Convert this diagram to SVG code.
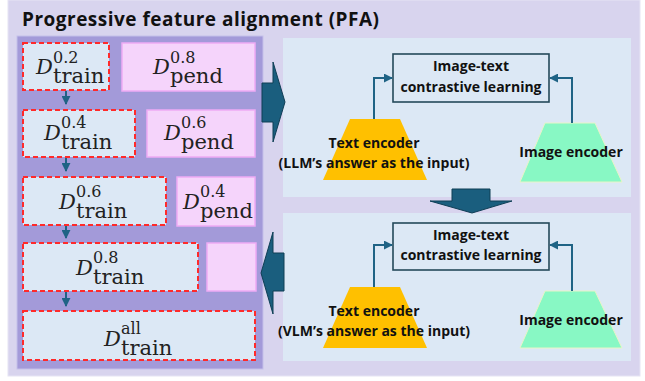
<svg xmlns="http://www.w3.org/2000/svg" width="645" height="381" viewBox="0 0 645 381">
<defs>
<style>
.title{font-family:"Open Sans","Liberation Sans",sans-serif;font-weight:700;font-size:19px;fill:#111}
.lbl{font-family:"Open Sans","Liberation Sans",sans-serif;font-weight:700;font-size:14px;fill:#111;text-anchor:middle}
.D{font-family:"DejaVu Serif",serif;font-style:italic;font-size:21px;fill:#222}
.sup{font-style:normal;font-size:16px}
.sub{font-style:normal;font-size:21px}
.train{fill:#dce8f5;stroke:#ff2a2a;stroke-width:2;stroke-dasharray:5 3}
.pend{fill:#f5d4fb;stroke:#eeaaf5;stroke-width:1.5}
.panel{fill:#dce8f5}
.big{fill:#1a5e7e;stroke:#0f3e55;stroke-width:1}
.conn{fill:none;stroke:#1f6385;stroke-width:2}
.cbox{fill:#dce8f5;stroke:#25495a;stroke-width:1.6}
.txtenc{fill:#ffc000}
.imgenc{fill:#88f8c4;stroke:#e8f5c8;stroke-width:1}
</style>
<marker id="ah" viewBox="0 0 10 10" refX="9" refY="5" markerWidth="4.5" markerHeight="4.5" orient="auto" markerUnits="strokeWidth">
<path d="M0,0 L10,5 L0,10 z" fill="#1f6385"/>
</marker>
</defs>

<g id="background">
<rect x="8" y="0" width="632" height="376" fill="#d8d4ee" stroke="#e6e4f4" stroke-width="1"/>
<text class="title" x="22" y="26" textLength="357" lengthAdjust="spacing">Progressive feature alignment (PFA)</text>
<rect x="17" y="36" width="246" height="333" fill="#a39ad9" stroke="#c4bfe9" stroke-width="1"/>
<rect class="panel" x="283" y="38" width="348" height="159"/>
<rect class="panel" x="283" y="213" width="348" height="148"/>
</g>

<g id="row1-train"><rect class="train" x="23" y="43" width="86" height="47"/>
<text class="D" x="36" y="74">D<tspan class="sup" x="53" y="63">0.2</tspan><tspan class="sub" x="53" y="83">train</tspan></text></g>
<g id="row1-pend"><rect class="pend" x="122" y="43" width="133" height="48"/>
<text class="D" x="153" y="74">D<tspan class="sup" x="170" y="63">0.8</tspan><tspan class="sub" x="170" y="83">pend</tspan></text></g>

<g id="row2-train"><rect class="train" x="23" y="110" width="112" height="47"/>
<text class="D" x="44" y="140">D<tspan class="sup" x="61" y="128">0.4</tspan><tspan class="sub" x="61" y="149">train</tspan></text></g>
<g id="row2-pend"><rect class="pend" x="147" y="110" width="108" height="47"/>
<text class="D" x="164" y="140">D<tspan class="sup" x="181" y="128">0.6</tspan><tspan class="sub" x="181" y="149">pend</tspan></text></g>

<g id="row3-train"><rect class="train" x="23" y="177" width="143" height="48"/>
<text class="D" x="59" y="209">D<tspan class="sup" x="76" y="197">0.6</tspan><tspan class="sub" x="76" y="218">train</tspan></text></g>
<g id="row3-pend"><rect class="pend" x="177" y="177" width="78" height="49"/>
<text class="D" x="183" y="209">D<tspan class="sup" x="200" y="197">0.4</tspan><tspan class="sub" x="200" y="218">pend</tspan></text></g>

<g id="row4-train"><rect class="train" x="23" y="243" width="175" height="48"/>
<text class="D" x="76" y="275">D<tspan class="sup" x="93" y="263">0.8</tspan><tspan class="sub" x="93" y="284">train</tspan></text></g>
<g id="row4-pend"><rect class="pend" x="207" y="243" width="49" height="48"/></g>

<g id="row5-train"><rect class="train" x="23" y="311" width="232" height="49"/>
<text class="D" x="104" y="346">D<tspan class="sup" x="121" y="334">all</tspan><tspan class="sub" x="121" y="355">train</tspan></text></g>

<g id="top-contrastive"><rect class="cbox" x="393" y="54" width="156" height="48"/>
<text class="lbl" x="471" y="71">Image-text</text><text class="lbl" x="471" y="92">contrastive learning</text></g>
<g id="top-text-encoder"><polygon class="txtenc" points="350,119 400,119 427,180 323,180"/>
<text class="lbl" x="374" y="148">Text encoder</text><text class="lbl" x="374" y="168">(LLM’s answer as the input)</text></g>
<g id="top-image-encoder"><polygon class="imgenc" points="545,123 595,123 622,182 520,182"/>
<text class="lbl" x="571" y="157">Image encoder</text></g>

<g id="bottom-contrastive"><rect class="cbox" x="393" y="223" width="156" height="47"/>
<text class="lbl" x="471" y="240">Image-text</text><text class="lbl" x="471" y="260">contrastive learning</text></g>
<g id="bottom-text-encoder"><polygon class="txtenc" points="350,287 400,287 427,348 323,348"/>
<text class="lbl" x="374" y="316">Text encoder</text><text class="lbl" x="374" y="336">(VLM’s answer as the input)</text></g>
<g id="bottom-image-encoder"><polygon class="imgenc" points="545,291 595,291 622,348 520,348"/>
<text class="lbl" x="571" y="325">Image encoder</text></g>

<g id="connectors">
<line class="conn" x1="66" y1="91" x2="66" y2="104" marker-end="url(#ah)"/>
<line class="conn" x1="66" y1="158" x2="66" y2="171" marker-end="url(#ah)"/>
<line class="conn" x1="66" y1="226" x2="66" y2="238" marker-end="url(#ah)"/>
<line class="conn" x1="66" y1="292" x2="66" y2="306" marker-end="url(#ah)"/>
<polyline class="conn" points="374,119 374,78 392,78" marker-end="url(#ah)"/>
<polyline class="conn" points="572,123 572,78 550,78" marker-end="url(#ah)"/>
<polyline class="conn" points="374,287 374,245 392,245" marker-end="url(#ah)"/>
<polyline class="conn" points="572,291 572,245 550,245" marker-end="url(#ah)"/>
<polygon class="big" points="262,83 273,83 273,62 285,102 273,142 273,122 262,122"/>
<polygon class="big" points="452,189 490,189 490,201 512,201 472,213 430,201 452,201"/>
<polygon class="big" points="284,253 273,253 273,232 261,273 273,314 273,291 284,291"/>
</g>
</svg>
